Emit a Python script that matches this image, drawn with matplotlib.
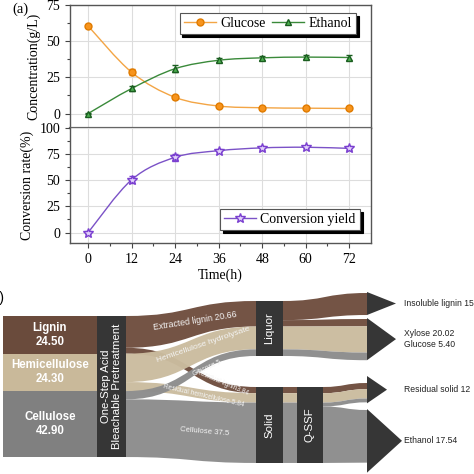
import numpy as np
import matplotlib
matplotlib.use("Agg")
from matplotlib import pyplot as plt
from matplotlib.path import Path
from matplotlib.patches import PathPatch, Polygon, Rectangle
from matplotlib.lines import Line2D
from matplotlib import font_manager

# ---- (a) fermentation data ----
time_h = [0, 12, 24, 36, 48, 60, 72]
glucose = [60.5, 28.5, 11.2, 5.2, 4.0, 3.7, 3.5]
glucose_err = [1.0, 2.0, 1.0, 0.8, 0.6, 0.6, 0.6]
ethanol = [0.0, 17.3, 31.0, 36.8, 38.5, 39.0, 38.7]
ethanol_err = [0.5, 2.0, 2.5, 1.5, 1.5, 1.2, 1.5]
conversion = [0.0, 50.5, 72.0, 78.3, 81.0, 81.6, 80.5]
conversion_err = [1.0, 3.5, 3.5, 1.5, 2.0, 1.0, 2.0]

# ---- (b) sankey data ----
feed_names = ['Lignin', 'Hemicellulose', 'Cellulose']
feed_values = [24.50, 24.30, 42.90]
feed_kind = ['lignin', 'hemi', 'cell']

flow_src = ['pre', 'pre', 'pre', 'pre', 'pre', 'pre',
            'liquor', 'liquor', 'liquor', 'liquor',
            'solid', 'solid', 'solid',
            'qssf', 'qssf', 'qssf', 'qssf']
flow_dst = ['liquor', 'solid', 'liquor', 'solid', 'liquor', 'solid',
            'a1', 'a2', 'a2', 'a2',
            'qssf', 'qssf', 'qssf',
            'a3', 'a3', 'a3', 'a4']
flow_val = [20.66, 3.84, 18.46, 5.84, 5.40, 37.50,
            15.50, 5.16, 18.46, 5.40,
            3.84, 5.84, 37.50,
            3.84, 5.84, 2.40, 35.10]
flow_kind = ['lignin', 'lignin', 'hemi', 'hemi', 'cell', 'cell',
             'lignin', 'lignin', 'hemi', 'cell',
             'lignin', 'hemi', 'cell',
             'lignin', 'hemi', 'cell', 'cell']
flow_labels = ['Extracted lignin 20.66', 'Residual lignin3.84',
               'Hemicellulose hydrolysate', 'Residual hemicellulose 5.84',
               'Glucose 5', 'Cellulose 37.5']
product_labels = ['Insoluble lignin 15', 'Xylose 20.02\nGlucose 5.40',
                  'Residual solid 12', 'Ethanol 17.54']


def smooth_path(x, y):
    # Catmull-Rom style bezier through the measured points
    p = np.column_stack([x, y]).astype(float)
    verts = [p[0]]
    codes = [Path.MOVETO]
    n = len(p)
    for i in range(n - 1):
        p0 = p[max(i - 1, 0)]
        p1 = p[i]
        p2 = p[i + 1]
        p3 = p[min(i + 2, n - 1)]
        verts += [p1 + (p2 - p0) / 6, p2 - (p3 - p1) / 6, p2]
        codes += [Path.CURVE4] * 3
    return Path(verts, codes)


def style_axis(ax):
    for s in ax.spines.values():
        s.set_color('#555555')
        s.set_linewidth(1.0)
    ax.tick_params(which='both', direction='out', colors='#444444',
                   labelcolor='black', labelsize=10)
    ax.tick_params(which='major', length=3.5, width=0.8)
    ax.tick_params(which='minor', length=2, width=0.8)
    ax.grid(True, which='major', color='#dddddd', lw=0.8)
    ax.set_axisbelow(True)


def main():
    plt.rcParams['font.family'] = ['Liberation Serif', 'DejaVu Serif']
    fig = plt.figure(figsize=(4.74, 4.74), dpi=100)

    W = 474.0
    ax1 = fig.add_axes([70 / W, 1 - 128 / W, 301 / W, 123 / W])
    ax2 = fig.add_axes([70 / W, 1 - 243 / W, 301 / W, 115 / W])

    g_c, g_f, g_e = '#f3a545', '#f7941d', '#e07b00'
    e_c, e_f, e_e = '#3a8a3a', '#4caf50', '#1b5e20'
    c_c, c_f, c_e = '#7b52c7', '#e0cffa', '#7a3fd0'

    ax1.add_patch(PathPatch(smooth_path(time_h, glucose), fill=False, ec=g_c, lw=1.0))
    ax1.add_patch(PathPatch(smooth_path(time_h, ethanol), fill=False, ec=e_c, lw=1.0))
    ax1.errorbar(time_h, glucose, yerr=glucose_err, fmt='o', ms=5, mfc=g_f, mec=g_e,
                 ecolor=g_e, elinewidth=0.8, capsize=2, zorder=3)
    ax1.errorbar(time_h, ethanol, yerr=ethanol_err, fmt='^', ms=5, mfc=e_f, mec=e_e,
                 ecolor=e_e, elinewidth=0.8, capsize=2, zorder=3)

    ax2.add_patch(PathPatch(smooth_path(time_h, conversion), fill=False, ec=c_c, lw=1.0))
    ax2.errorbar(time_h, conversion, yerr=conversion_err, fmt='*', ms=7, mfc=c_f, mec=c_e,
                 ecolor=c_e, elinewidth=0.8, capsize=2, zorder=3)

    for ax in (ax1, ax2):
        style_axis(ax)
        ax.set_xlim(-5, 78)
        ax.set_xticks(time_h)
        ax.set_xticks(np.arange(6, 78, 12), minor=True)

    ax1.set_ylim(-10, 75)
    ax1.set_yticks([0, 25, 50, 75])
    ax1.set_yticks([12.5, 37.5, 62.5], minor=True)
    ax1.tick_params(axis='x', which='both', bottom=False, labelbottom=False)
    ax1.spines['bottom'].set_linewidth(1.6)
    ax1.spines['bottom'].set_color('#666666')
    ax1.set_ylabel('Concentration(g/L)', fontsize=10, labelpad=4)

    ax2.set_ylim(-10, 100)
    ax2.set_yticks([0, 25, 50, 75, 100])
    ax2.set_yticks([12.5, 37.5, 62.5, 87.5], minor=True)
    ax2.set_ylabel('Conversion rate(%)', fontsize=10, labelpad=4)
    ax2.set_xlabel('Time(h)', fontsize=10, labelpad=2)
    ax2.spines['top'].set_visible(False)

    h1 = [Line2D([], [], color=g_c, marker='o', ms=5, mfc=g_f, mec=g_e, lw=1),
          Line2D([], [], color=e_c, marker='^', ms=5, mfc=e_f, mec=e_e, lw=1)]
    lg1 = ax1.legend(h1, ['Glucose', 'Ethanol'], ncol=2, loc='upper right',
                     bbox_to_anchor=(0.95, 0.935), borderaxespad=0, fancybox=False,
                     shadow={'color': 'black', 'alpha': 1}, edgecolor='#555555',
                     framealpha=1, fontsize=10, handlelength=2.3, columnspacing=0.5,
                     handletextpad=0.3, borderpad=0.3)
    lg1.get_frame().set_linewidth(0.8)
    h2 = [Line2D([], [], color=c_c, marker='*', ms=7, mfc=c_f, mec=c_e, lw=1)]
    lg2 = ax2.legend(h2, ['Conversion yield'], loc='lower right',
                     bbox_to_anchor=(0.963, 0.11), borderaxespad=0, fancybox=False,
                     shadow={'color': 'black', 'alpha': 1}, edgecolor='#555555',
                     framealpha=1, fontsize=10, handlelength=2.3,
                     handletextpad=0.3, borderpad=0.3)
    lg2.get_frame().set_linewidth(0.8)

    fig.text(20 / W, 1 - 9 / W, '(a)', fontsize=10.5, ha='center', va='center')

    # ---- (b) sankey, drawn in pixel coordinates ----
    sx = fig.add_axes([0, 0, 1, 1])
    sx.set_xlim(0, W)
    sx.set_ylim(W, 0)
    sx.set_axis_off()
    sans = ['Liberation Sans', 'DejaVu Sans']
    installed = {f.name for f in font_manager.fontManager.ttflist}
    if 'Liberation Sans Narrow' in installed:
        narrow = ['Liberation Sans Narrow', 'Liberation Sans']
        right_fs = 7.2
    else:
        narrow = sans
        right_fs = 6.2

    block_col = {'lignin': '#6a4b3c', 'hemi': '#c9b99a', 'cell': '#808080'}
    flow_col = {'lignin': '#6f4e3f', 'hemi': '#cbbc9f', 'cell': '#8d8d8d'}
    dark = '#363636'

    # node layout: x_left, x_right, top, px per unit
    nodes = {'pre': (97, 126, 316, 1.538), 'liquor': (256, 283, 301, 1.235),
             'solid': (256, 283, 387, 1.61), 'qssf': (297, 323, 387, 1.61),
             'a1': (367, 396, 293, 1.42), 'a2': (367, 396, 319, 1.42),
             'a3': (367, 387, 383, 1.6), 'a4': (367, 402, 410, 1.5)}

    # feedstock blocks
    k0 = nodes['pre'][3]
    y = nodes['pre'][2]
    for name, v, kind in zip(feed_names, feed_values, feed_kind):
        h = v * k0
        sx.add_patch(Rectangle((3, y), 94, h, fc=block_col[kind], ec='none'))
        sx.text(50, y + h / 2, '%s\n%.2f' % (name, v), color='white', fontsize=8.3,
                fontweight='bold', ha='center', va='center', family=sans,
                linespacing=1.2)
        y += h

    # ribbons
    out_off = {n: 0.0 for n in nodes}
    in_off = {n: 0.0 for n in nodes}
    ext = {}
    for s, d, v, kind in zip(flow_src, flow_dst, flow_val, flow_kind):
        xs0, xs1, ts, ks = nodes[s]
        xd0, xd1, td, kd = nodes[d]
        y0 = ts + out_off[s] * ks
        y0b = y0 + v * ks
        y1 = td + in_off[d] * kd
        y1b = y1 + v * kd
        out_off[s] += v
        in_off[d] += v
        x0, x1 = xs1, xd0
        xm = (x0 + x1) / 2
        verts = [(x0, y0), (xm, y0), (xm, y1), (x1, y1), (x1, y1b),
                 (xm, y1b), (xm, y0b), (x0, y0b), (x0, y0)]
        codes = [Path.MOVETO] + [Path.CURVE4] * 3 + [Path.LINETO] + \
                [Path.CURVE4] * 3 + [Path.CLOSEPOLY]
        sx.add_patch(PathPatch(Path(verts, codes), fc=flow_col[kind], ec='none',
                               alpha=0.97, zorder=1))
        lo, hi = ext.get(d, (1e9, -1e9))
        ext[d] = (min(lo, y1), max(hi, y1b))

    # process blocks
    for key, label in [('pre', 'One-Step Acid\nBleachable Pretreatment'),
                       ('liquor', 'Liquor'), ('solid', 'Solid'), ('qssf', 'Q-SSF')]:
        x0, x1, top, k = nodes[key]
        h = out_off[key] * k
        sx.add_patch(Rectangle((x0, top), x1 - x0, h, fc=dark, ec='none', zorder=2))
        sx.text((x0 + x1) / 2, top + h / 2, label, color='white', rotation=90,
                fontsize=8.2, ha='center', va='center', family=sans,
                linespacing=1.05, zorder=3)

    # product arrows
    pads = {'a1': (1, 0), 'a2': (1, 0), 'a3': (7, 1), 'a4': (1, 10)}
    for key, label in zip(['a1', 'a2', 'a3', 'a4'], product_labels):
        x0, xt, top, k = nodes[key]
        lo, hi = ext[key]
        lo -= pads[key][0]
        hi += pads[key][1]
        mid = (lo + hi) / 2
        sx.add_patch(Polygon([(x0, lo), (xt, mid), (x0, hi)], closed=True,
                             fc=dark, ec='none', zorder=2))
        sx.text(404, mid, label, fontsize=right_fs, ha='left', va='center',
                family=narrow, color='#222222', linespacing=1.3)

    # flow labels
    lab_pos = [(195, 321, 9), (222, 383, -23), (203, 345, 19),
               (204, 396, -13), (207, 368, 25), (205, 432, -5)]
    lab_size = [6.3, 4.8, 6.0, 4.8, 4.8, 5.6]
    for t, (px, py, r), fs in zip(flow_labels, lab_pos, lab_size):
        sx.text(px, py, t, rotation=r, fontsize=fs, color='#f4f4f4', ha='center',
                va='center', family=sans, rotation_mode='anchor', zorder=4)

    sx.text(4, 298, '(b)', fontsize=10, ha='right', va='center', family=sans)

    fig.savefig('out.png', dpi=100)


if __name__ == "__main__":
    main()
